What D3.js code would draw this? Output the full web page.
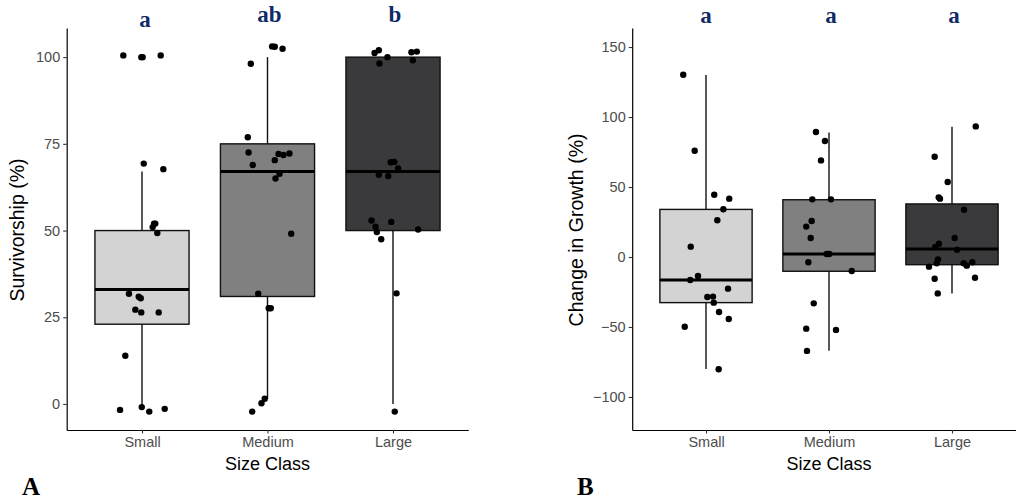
<!DOCTYPE html>
<html>
<head>
<meta charset="utf-8">
<script src="https://cdn.jsdelivr.net/npm/d3@7/dist/d3.min.js"></script>
<style>
  body { margin: 0; background: #fff; }
  svg { display: block; }
</style>
</head>
<body>
<div id="chart"></div>
<script>
// categories and fills
const sizeClasses = ["Small", "Medium", "Large"];
const boxFills = ["#d3d3d3", "#808080", "#3a3a3c"];

// panel A: survivorship (%) box stats per size class
const survLow = [-1, 1.5, 0];
const survQ1 = [23, 31, 50];
const survMedian = [33, 67, 67];
const survQ3 = [50, 75, 100];
const survHigh = [67, 100, 100];
const survLetters = ["a", "ab", "b"];

// panel A points: value, and horizontal jitter in category units
const survSmall = [100.5, 100, 100, 100.5, 69.3, 67.7, 52, 52, 51, 49.3, 31.8, 30.9, 30.5, 27.2, 26.4, 26.4, 13.9, -1.7, -0.9, -2.2, -1.4];
const survSmallJit = [-0.149, -0.005, 0.005, 0.149, 0.014, 0.17, 0.096, 0.106, 0.085, 0.122, -0.104, -0.026, -0.01, -0.053, -0.006, 0.133, -0.133, -0.175, -0.002, 0.058, 0.181];
const survMedium = [103.1, 103, 102.4, 98.1, 76.9, 72.5, 68.9, 70.3, 72.1, 71.8, 72.2, 66.4, 65, 49.1, 31.8, 27.6, 27.6, 1.5, 0.2, -2.2];
const survMediumJit = [0.037, 0.058, 0.12, -0.133, -0.157, -0.151, -0.117, 0.058, 0.088, 0.127, 0.175, 0.096, 0.064, 0.189, -0.074, 0.01, 0.026, -0.022, -0.048, -0.122];
const survLarge = [101.2, 102, 100, 98.2, 101.4, 101.6, 99.1, 69.7, 69.8, 67.9, 66.1, 65.7, 52.9, 52.5, 51.1, 49.6, 50.3, 47.5, 31.9, -2.2];
const survLargeJit = [-0.147, -0.113, -0.044, -0.108, 0.147, 0.19, 0.158, -0.018, 0.01, 0.041, -0.113, -0.038, -0.171, -0.014, -0.139, -0.129, 0.2, -0.094, 0.028, 0.014];

// panel B: change in growth (%) box stats
const growLow = [-80, -67, -26];
const growQ1 = [-32.6, -10.2, -5.5];
const growMedian = [-16.4, 2.1, 5.7];
const growQ3 = [34, 40.9, 37.9];
const growHigh = [130, 89, 93];
const growLetters = ["a", "a", "a"];

const growSmall = [130.2, 75.9, 44.5, 41.7, 34.1, 26.2, 7.4, -13.6, -16.4, -22.6, -28.6, -28.3, -32.6, -39.3, -44.3, -49.8, -80.2];
const growSmallJit = [-0.185, -0.092, 0.067, 0.189, 0.141, 0.092, -0.124, -0.065, -0.128, 0.179, 0.011, 0.057, 0.063, 0.106, 0.185, -0.173, 0.103];
const growMedium = [89.3, 82.9, 69, 41.2, 41.2, 25.7, 21.7, 13.6, 2.1, 2.1, -3.8, -10, -33.1, -51.2, -52.1, -67.1];
const growMediumJit = [-0.106, -0.033, -0.065, -0.136, 0.016, -0.141, -0.185, -0.149, -0.019, 0.002, -0.168, 0.185, -0.124, -0.185, 0.057, -0.179];
const growLarge = [93.3, 71.6, 53.6, 42.6, 41.7, 33.8, 13.6, 9.5, 7.1, 5.2, -1.7, -4.5, -6.9, -4.5, -6.2, -3.8, -15.5, -14.8, -26];
const growLargeJit = [0.193, -0.141, -0.035, -0.108, -0.098, 0.098, 0.022, -0.106, -0.136, 0.041, -0.114, -0.124, -0.187, 0.095, 0.12, 0.165, -0.141, 0.187, -0.116];

// tick labels
const survTicks = [0, 25, 50, 75, 100];
const growTicks = [-100, -50, 0, 50, 100, 150];

const W = 1016, H = 502;
const sans = "'Liberation Sans', Arial, Helvetica, sans-serif";
const serif = "'Liberation Serif', 'Times New Roman', serif";

const svg = d3.select("#chart").append("svg")
    .attr("width", W)
    .attr("height", H);

function panel(opt) {
    const x = d3.scaleLinear().domain([0.4, 3.6]).range(opt.xRange);
    const y = d3.scaleLinear().domain(opt.yDomain).range([430, 28]);
    const g = svg.append("g");
    const bw = 0.75;

    // boxes
    sizeClasses.forEach((c, i) => {
        const cx = x(i + 1);
        const x0 = x(i + 1 - bw / 2), x1 = x(i + 1 + bw / 2);
        g.append("line")
            .attr("x1", cx).attr("x2", cx)
            .attr("y1", y(opt.high[i])).attr("y2", y(opt.q3[i]))
            .attr("stroke", "#111").attr("stroke-width", 1.4);
        g.append("line")
            .attr("x1", cx).attr("x2", cx)
            .attr("y1", y(opt.q1[i])).attr("y2", y(opt.low[i]))
            .attr("stroke", "#111").attr("stroke-width", 1.4);
        g.append("rect")
            .attr("x", x0).attr("width", x1 - x0)
            .attr("y", y(opt.q3[i])).attr("height", y(opt.q1[i]) - y(opt.q3[i]))
            .attr("fill", boxFills[i])
            .attr("stroke", "#111").attr("stroke-width", 1.4);
        g.append("line")
            .attr("x1", x0).attr("x2", x1)
            .attr("y1", y(opt.median[i])).attr("y2", y(opt.median[i]))
            .attr("stroke", "#000").attr("stroke-width", 3);
    });

    // jittered points
    opt.points.forEach((p, i) => {
        g.append("g").selectAll("circle")
            .data(p.vals.map((v, j) => ({ v: v, j: p.jit[j] })))
            .join("circle")
            .attr("cx", d => x(i + 1 + d.j))
            .attr("cy", d => y(d.v))
            .attr("r", 3.2)
            .attr("fill", "#000");
    });

    // y axis
    const ya = g.append("g")
        .attr("transform", "translate(" + opt.xRange[0] + ",0)")
        .call(d3.axisLeft(y).tickValues(opt.ticks).tickSizeInner(3.5).tickSizeOuter(0).tickPadding(3));
    ya.select(".domain").attr("stroke", "#000").attr("stroke-width", 1.2);
    ya.selectAll(".tick line").attr("stroke", "#333").attr("stroke-width", 1.1);
    ya.selectAll(".tick text")
        .style("font-family", sans).style("font-size", "14.5px").attr("fill", "#4d4d4d");

    // x axis
    const xa = g.append("g")
        .attr("transform", "translate(0,430)")
        .call(d3.axisBottom(x).tickValues([1, 2, 3]).tickFormat(d => sizeClasses[d - 1])
            .tickSizeInner(3.5).tickSizeOuter(0).tickPadding(3));
    xa.select(".domain").attr("stroke", "#000").attr("stroke-width", 1.2);
    xa.selectAll(".tick line").attr("stroke", "#333").attr("stroke-width", 1.1);
    xa.selectAll(".tick text")
        .style("font-family", sans).style("font-size", "14.5px").attr("fill", "#4d4d4d");

    // titles
    g.append("text")
        .attr("x", x(2)).attr("y", 470)
        .attr("text-anchor", "middle")
        .style("font-family", sans).style("font-size", "18px")
        .text("Size Class");

    g.append("text")
        .attr("transform", "translate(" + opt.yTitleX + ",230) rotate(-90)")
        .attr("text-anchor", "middle")
        .style("font-family", sans).style("font-size", "19.5px")
        .text(opt.yTitle);

    // significance letters
    opt.letters.forEach((t, i) => {
        g.append("text")
            .attr("x", x(i + 1) + opt.letterDx[i]).attr("y", opt.letterY[i])
            .attr("text-anchor", "middle")
            .style("font-family", serif).style("font-weight", "bold").style("font-size", "23px")
            .attr("fill", "#0f2a66")
            .text(t);
    });

    // panel tag
    g.append("text")
        .attr("x", opt.tagX).attr("y", 495)
        .style("font-family", serif).style("font-weight", "bold").style("font-size", "25px")
        .text(opt.tag);
}

panel({
    xRange: [66.7, 468.3],
    yDomain: [-7.5, 108.4],
    ticks: survTicks,
    low: survLow, q1: survQ1, median: survMedian, q3: survQ3, high: survHigh,
    points: [
        { vals: survSmall, jit: survSmallJit },
        { vals: survMedium, jit: survMediumJit },
        { vals: survLarge, jit: survLargeJit }
    ],
    yTitle: "Survivorship (%)",
    yTitleX: 24,
    letters: survLetters,
    letterDx: [3, 2, 2],
    letterY: [27, 22, 22],
    tag: "A", tagX: 22
});

panel({
    xRange: [632.2, 1025.8],
    yDomain: [-123.6, 163.6],
    ticks: growTicks,
    low: growLow, q1: growQ1, median: growMedian, q3: growQ3, high: growHigh,
    points: [
        { vals: growSmall, jit: growSmallJit },
        { vals: growMedium, jit: growMediumJit },
        { vals: growLarge, jit: growLargeJit }
    ],
    yTitle: "Change in Growth (%)",
    yTitleX: 583,
    letters: growLetters,
    letterDx: [0, 2, 2],
    letterY: [23, 23, 23],
    tag: "B", tagX: 577
});
</script>
</body>
</html>
